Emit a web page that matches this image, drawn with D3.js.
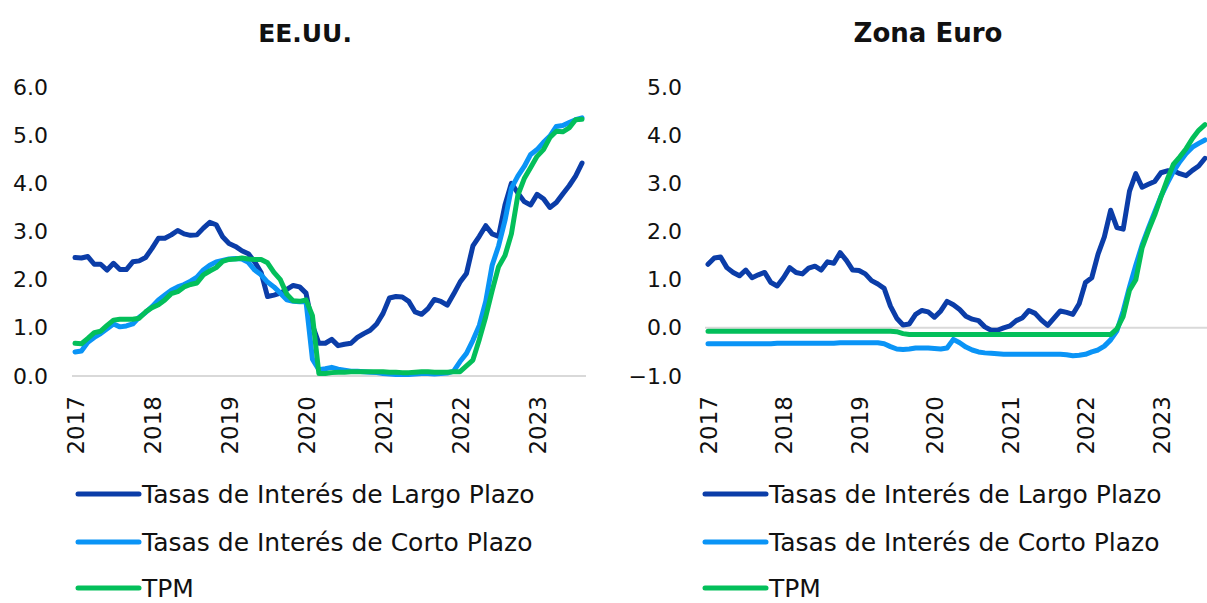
<!DOCTYPE html>
<html>
<head>
<meta charset="utf-8">
<script src="https://cdn.jsdelivr.net/npm/d3@7"></script>
<style>
  body { margin: 0; background: #fff; }
  svg text { font-family: "DejaVu Sans", sans-serif; fill: #111; }
</style>
</head>
<body>
<svg id="chart" width="1207" height="603"></svg>
<script>
// meses: ene-2017 a ago-2023
var months = d3.utcMonth.range(new Date(Date.UTC(2017, 0, 1)), new Date(Date.UTC(2023, 8, 1)));
var yearLabels = ["2017", "2018", "2019", "2020", "2021", "2022", "2023"];
var seriesNames = ["Tasas de Interés de Largo Plazo", "Tasas de Interés de Corto Plazo", "TPM"];
var seriesColors = ["#0b3da8", "#0a94f6", "#03bf5a"];

var usTicks = [0, 1, 2, 3, 4, 5, 6];
var euTicks = [-1, 0, 1, 2, 3, 4, 5];

var usLargo = [2.46,2.45,2.48,2.32,2.32,2.20,2.34,2.21,2.21,2.37,2.39,2.46,
  2.65,2.86,2.86,2.93,3.02,2.95,2.92,2.93,3.07,3.19,3.14,2.89,
  2.75,2.69,2.60,2.54,2.37,2.15,1.65,1.68,1.72,1.80,1.88,1.85,
  1.72,1.05,0.68,0.68,0.76,0.63,0.66,0.68,0.80,0.88,0.95,1.08,
  1.30,1.62,1.65,1.64,1.55,1.33,1.28,1.40,1.59,1.55,1.47,1.70,
  1.95,2.13,2.70,2.90,3.12,2.95,2.90,3.55,4.00,3.80,3.62,3.55,
  3.77,3.68,3.50,3.60,3.78,3.95,4.15,4.42];
var usCorto = [0.50,0.52,0.70,0.80,0.88,0.98,1.08,1.02,1.04,1.08,1.22,1.32,
  1.44,1.58,1.68,1.78,1.85,1.90,1.97,2.05,2.20,2.30,2.37,2.40,
  2.43,2.44,2.43,2.36,2.20,2.10,1.95,1.85,1.72,1.58,1.55,1.54,
  1.54,0.35,0.13,0.15,0.18,0.14,0.12,0.10,0.10,0.09,0.08,0.07,
  0.05,0.04,0.03,0.03,0.03,0.04,0.05,0.05,0.04,0.05,0.06,0.10,
  0.30,0.47,0.74,1.05,1.55,2.30,2.70,3.23,3.90,4.15,4.35,4.60,
  4.70,4.85,4.98,5.18,5.20,5.26,5.32,5.36];
var usTPM = [0.68,0.67,0.78,0.90,0.93,1.05,1.16,1.18,1.18,1.18,1.20,1.33,
  1.42,1.48,1.58,1.71,1.75,1.85,1.90,1.93,2.10,2.18,2.25,2.38,
  2.42,2.43,2.45,2.43,2.42,2.42,2.35,2.15,2.00,1.70,1.56,1.55,
  1.58,1.25,0.05,0.05,0.07,0.08,0.08,0.09,0.09,0.09,0.09,0.09,
  0.09,0.08,0.08,0.07,0.07,0.08,0.09,0.09,0.08,0.08,0.08,0.09,
  0.09,0.21,0.33,0.76,1.23,1.77,2.27,2.50,2.95,3.75,4.10,4.33,
  4.56,4.70,4.95,5.08,5.07,5.15,5.32,5.33];

var euLargo = [1.32,1.45,1.47,1.25,1.15,1.08,1.20,1.04,1.10,1.15,0.94,0.87,
  1.04,1.25,1.15,1.12,1.24,1.28,1.20,1.37,1.34,1.56,1.40,1.20,
  1.19,1.12,0.98,0.91,0.82,0.45,0.20,0.06,0.08,0.28,0.36,0.33,
  0.22,0.35,0.55,0.48,0.38,0.24,0.18,0.15,0.02,-0.05,-0.05,0.00,
  0.04,0.15,0.21,0.36,0.30,0.16,0.05,0.20,0.35,0.32,0.28,0.50,
  0.94,1.04,1.53,1.89,2.44,2.08,2.05,2.84,3.20,2.92,2.98,3.04,
  3.22,3.26,3.26,3.20,3.16,3.27,3.36,3.52];
var euCorto = [-0.33,-0.33,-0.33,-0.33,-0.33,-0.33,-0.33,-0.33,-0.33,-0.33,-0.33,-0.32,
  -0.32,-0.32,-0.32,-0.32,-0.32,-0.32,-0.32,-0.32,-0.32,-0.31,-0.31,-0.31,
  -0.31,-0.31,-0.31,-0.31,-0.33,-0.39,-0.44,-0.45,-0.44,-0.42,-0.42,-0.42,
  -0.43,-0.44,-0.42,-0.24,-0.31,-0.40,-0.46,-0.50,-0.52,-0.53,-0.54,-0.55,
  -0.55,-0.55,-0.55,-0.55,-0.55,-0.55,-0.55,-0.55,-0.55,-0.56,-0.58,-0.57,
  -0.55,-0.50,-0.46,-0.38,-0.25,-0.06,0.35,0.85,1.30,1.72,2.07,2.40,
  2.73,3.00,3.25,3.45,3.62,3.75,3.83,3.90];
var euTPM = [-0.07,-0.07,-0.07,-0.07,-0.07,-0.07,-0.07,-0.07,-0.07,-0.07,-0.07,-0.07,
  -0.07,-0.07,-0.07,-0.07,-0.07,-0.07,-0.07,-0.07,-0.07,-0.07,-0.07,-0.07,
  -0.07,-0.07,-0.07,-0.07,-0.07,-0.07,-0.08,-0.12,-0.14,-0.14,-0.14,-0.14,
  -0.14,-0.14,-0.14,-0.14,-0.14,-0.14,-0.14,-0.14,-0.14,-0.14,-0.14,-0.14,
  -0.14,-0.14,-0.14,-0.14,-0.14,-0.14,-0.14,-0.14,-0.14,-0.14,-0.14,-0.14,
  -0.14,-0.14,-0.14,-0.14,-0.14,-0.02,0.24,0.78,1.00,1.66,2.02,2.34,
  2.72,3.08,3.40,3.55,3.72,3.93,4.10,4.22];

var svg = d3.select("#chart");

function drawPanel(opt) {
  var g = svg.append("g");
  var x = d3.scaleLinear().domain([0, months.length - 1]).range([opt.x0, opt.x1]);
  var y = d3.scaleLinear().domain([opt.ticks[0], opt.ticks[opt.ticks.length - 1]]).range([376, 87]);

  g.append("text")
    .attr("x", opt.titleX).attr("y", 42)
    .attr("text-anchor", "middle")
    .style("font-size", opt.titleSize).style("font-weight", "bold")
    .text(opt.title);

  // eje Y
  var yAxis = g.append("g")
    .attr("transform", "translate(" + opt.labelX + ",0)")
    .call(d3.axisLeft(y).tickValues(opt.ticks).tickSize(0).tickPadding(0).tickFormat(d3.format(".1f")));
  yAxis.select(".domain").remove();
  yAxis.selectAll("text").style("font-size", "22px").style("font-family", "DejaVu Sans").attr("fill", "#111");

  // linea del cero
  g.append("line")
    .attr("x1", opt.x0 - 3).attr("x2", opt.x1 + 4)
    .attr("y1", y(0)).attr("y2", y(0))
    .attr("stroke", "#d9d9d9").attr("stroke-width", 2);

  // eje X (años, rotados)
  var xAxis = g.append("g")
    .attr("transform", "translate(0,396)")
    .call(d3.axisBottom(x).tickValues(yearLabels.map(function(d, i){ return i * 12; }))
      .tickSize(0).tickFormat(function(d){ return yearLabels[d / 12]; }));
  xAxis.select(".domain").remove();
  xAxis.selectAll("text")
    .attr("transform", "rotate(-90)")
    .attr("x", 0).attr("y", 0).attr("dy", "0.36em")
    .attr("text-anchor", "end")
    .style("font-size", "23px").style("font-family", "DejaVu Sans").attr("fill", "#111");

  var line = d3.line()
    .x(function(d, i){ return x(i); })
    .y(function(d){ return y(d); });

  opt.series.forEach(function(s, k){
    g.append("path")
      .datum(s)
      .attr("d", line)
      .attr("fill", "none")
      .attr("stroke", seriesColors[k])
      .attr("stroke-width", 5)
      .attr("stroke-linejoin", "round")
      .attr("stroke-linecap", "round");
  });

  // leyenda
  var legY = [494, 542, 588];
  seriesNames.forEach(function(name, k){
    g.append("line")
      .attr("x1", opt.legX).attr("x2", opt.legX + 61)
      .attr("y1", legY[k]).attr("y2", legY[k])
      .attr("stroke", seriesColors[k]).attr("stroke-width", 5)
      .attr("stroke-linecap", "round");
    g.append("text")
      .attr("x", opt.legX + 64).attr("y", legY[k])
      .attr("dy", "0.36em")
      .style("font-size", "25px")
      .text(name);
  });
}

drawPanel({
  title: "EE.UU.", titleX: 305, titleSize: "25px",
  x0: 75, x1: 582, labelX: 48,
  ticks: usTicks, legX: 78,
  series: [usLargo, usCorto, usTPM]
});

drawPanel({
  title: "Zona Euro", titleX: 928, titleSize: "26px",
  x0: 708, x1: 1205, labelX: 682,
  ticks: euTicks, legX: 705,
  series: [euLargo, euCorto, euTPM]
});
</script>
</body>
</html>
